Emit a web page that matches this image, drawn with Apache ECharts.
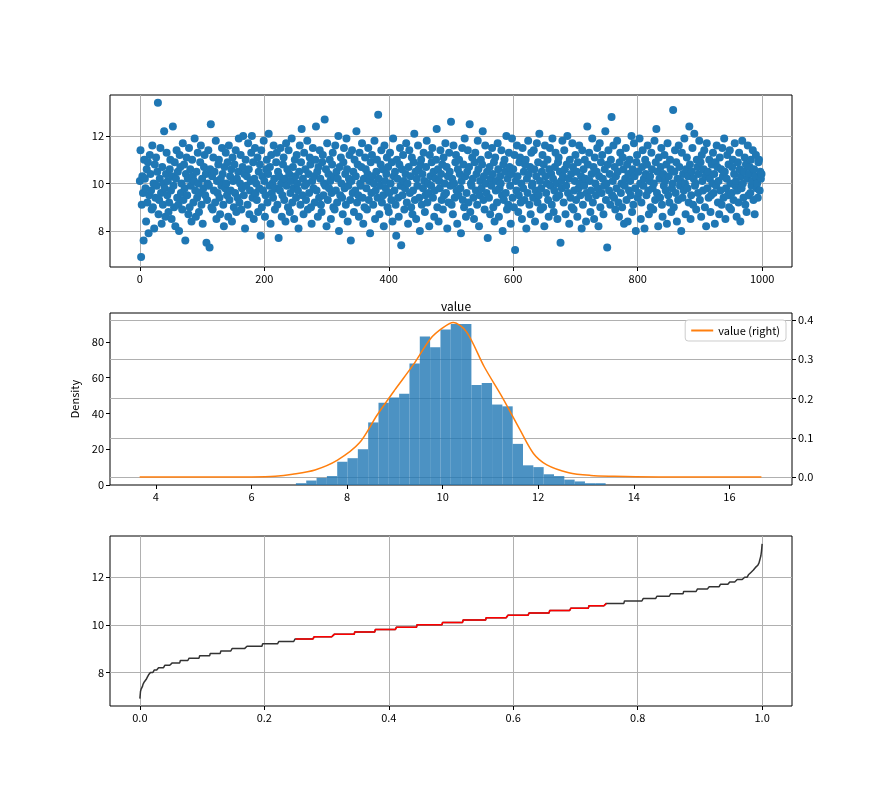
<!DOCTYPE html>
<html>
<head>
<meta charset="utf-8">
<script src="https://cdn.jsdelivr.net/npm/echarts@6/dist/echarts.min.js"></script>
<style>
	html, body { margin: 0; padding: 0; background: #fff; }
	#main { width: 878px; height: 787px; }
</style>
</head>
<body>
<div id="main"></div>
<script>
/*
 *  ========== 数据 ==========
 */
// 散点图: 1000 个 value 值
var values = [
10.1,11.4,6.9,9.1,10.3,9.6,7.6,11.0,10.2,9.8,8.4,10.6,9.2,10.9,7.9,9.5,11.2,10.4,9.7,8.9,
11.6,9.0,10.0,8.1,10.8,9.4,11.1,9.9,10.5,13.4,8.7,9.3,10.2,11.5,9.6,8.3,10.7,9.1,10.0,12.2,
9.8,8.6,10.4,11.3,9.5,10.1,8.8,9.2,10.6,11.0,9.7,8.5,10.3,12.4,9.9,9.0,10.9,8.2,10.2,11.4,
9.4,10.5,9.1,8.0,11.2,10.7,9.6,10.0,8.9,11.7,9.3,10.8,9.8,7.6,10.4,11.1,9.5,10.2,8.7,11.5,
9.0,10.6,9.9,8.4,11.0,10.3,9.2,10.1,11.9,9.7,8.6,10.5,9.4,11.3,10.0,8.8,9.6,10.9,11.6,9.1,
10.2,8.3,9.8,10.7,11.2,9.5,10.4,7.5,9.3,10.0,11.4,9.9,7.3,10.6,12.5,9.0,10.3,8.9,11.1,9.7,
10.5,9.2,11.8,8.5,10.1,9.6,10.8,11.0,9.4,8.7,10.2,9.9,11.5,10.4,9.1,8.2,10.7,9.8,11.3,10.0,
9.5,10.9,8.6,11.6,9.3,10.3,9.7,10.6,8.4,11.1,10.1,9.0,10.8,9.6,11.4,8.8,10.2,9.4,10.5,11.9,
9.2,10.0,11.2,8.9,9.8,10.7,12.0,9.5,10.4,8.1,11.0,9.9,10.3,9.1,11.7,10.6,8.7,9.7,10.1,11.3,
12.0,9.4,10.9,8.5,10.2,11.5,9.6,10.0,9.3,11.1,8.8,10.5,9.8,10.8,7.8,11.4,9.0,10.3,9.7,11.8,
10.1,8.6,9.5,10.6,11.0,9.2,10.4,12.1,9.9,10.7,8.3,11.2,9.6,10.0,9.4,11.6,10.2,8.9,9.8,10.9,
11.3,9.1,10.5,7.7,10.3,9.7,11.5,10.0,8.6,9.5,10.8,11.1,9.3,10.2,8.4,11.7,9.9,10.6,9.0,11.4,
10.4,8.8,9.6,10.1,11.9,9.2,10.7,9.8,8.5,11.0,10.3,9.4,11.2,10.0,9.7,8.1,10.5,11.6,9.1,10.9,
12.3,9.5,10.2,8.7,11.3,9.9,10.6,9.3,10.0,11.8,8.9,10.4,9.6,11.1,10.8,9.0,8.3,10.1,11.5,9.8,
10.3,9.2,11.0,12.4,9.7,10.5,8.6,10.7,9.4,11.4,10.2,9.1,8.8,10.9,11.2,9.5,10.0,12.7,9.9,10.6,
8.2,11.7,9.3,10.4,9.8,11.0,10.1,8.5,9.6,10.8,11.3,9.0,10.3,8.9,11.6,9.7,10.5,9.2,10.2,12.0,
8.0,10.7,9.5,11.1,10.0,9.4,8.7,10.9,11.5,9.8,10.4,9.1,11.9,10.6,8.4,9.9,10.2,11.2,9.3,7.6,
10.1,11.4,9.6,10.5,8.8,11.0,9.7,10.3,12.2,9.2,10.8,9.5,8.6,11.3,10.0,9.9,10.7,11.7,9.4,8.3,
10.2,9.0,11.1,10.6,9.8,8.9,10.4,11.5,9.3,10.1,7.9,10.9,9.6,11.2,10.3,9.1,10.0,11.8,8.5,9.7,
10.5,11.0,9.4,12.9,10.2,8.7,9.9,10.8,11.4,9.2,10.6,9.5,8.2,11.6,10.1,9.8,10.4,11.1,9.0,10.7,
8.8,9.6,11.3,10.0,9.3,10.9,8.4,11.9,10.3,9.7,10.5,9.1,7.8,11.0,10.2,9.4,8.6,10.8,11.5,9.9,
7.4,10.6,9.5,11.2,10.1,8.9,9.8,10.4,11.7,9.2,10.0,8.3,10.7,11.4,9.6,10.3,9.0,11.1,8.7,9.7,
10.9,12.1,9.3,10.5,8.5,10.2,9.9,11.6,10.6,9.4,8.0,10.8,11.0,9.1,10.4,9.8,11.3,10.1,8.8,9.5,
10.7,11.8,9.2,10.0,9.6,8.2,11.2,10.3,9.9,10.9,11.5,9.4,10.5,8.6,9.7,10.2,11.0,12.3,9.0,10.6,
8.4,10.1,9.8,11.4,10.4,9.3,10.8,8.9,11.1,9.5,10.0,11.7,9.6,10.7,8.1,10.3,9.2,11.3,10.5,9.9,
12.6,9.1,10.2,8.7,11.6,10.0,9.4,10.9,11.2,9.7,8.3,10.6,9.5,11.0,10.4,9.8,7.9,10.1,11.5,9.3,
10.8,9.0,11.9,10.3,8.6,9.6,10.5,11.4,9.2,10.7,12.5,8.8,10.0,9.9,11.1,10.2,9.4,8.5,10.9,11.3,
9.7,10.4,9.1,11.8,10.6,8.2,9.5,10.1,11.0,9.8,10.8,12.2,9.3,10.3,8.9,11.6,10.0,9.6,10.5,7.7,
11.2,9.4,10.7,8.7,10.2,9.9,11.5,10.4,9.0,10.9,8.4,11.1,9.7,10.1,9.2,11.7,10.6,8.6,9.8,10.3,
10.0,11.4,9.5,8.0,10.8,9.3,11.0,10.5,9.6,12.0,8.9,10.2,9.1,11.3,10.7,9.9,8.3,10.4,11.9,9.4,
10.6,9.0,11.2,7.2,10.1,9.7,11.6,10.3,8.8,9.5,10.9,11.1,9.2,10.0,8.5,11.5,9.8,10.5,9.3,10.8,
11.0,8.1,10.2,9.6,11.8,10.4,9.1,10.7,8.7,11.3,9.9,10.0,9.4,11.4,10.6,8.4,9.7,10.3,11.7,9.2,
10.9,9.5,12.1,10.1,8.9,9.8,10.5,11.2,9.0,10.8,8.2,11.6,10.3,9.6,10.0,11.0,9.3,8.6,10.6,11.5,
9.9,10.4,9.1,11.9,10.2,8.8,9.7,10.7,11.3,9.4,10.0,8.5,10.9,11.1,9.5,10.5,7.5,10.1,9.8,11.8,
10.3,9.2,11.4,10.6,8.7,9.9,10.8,12.0,9.6,10.2,8.3,11.0,9.4,10.4,9.0,11.7,10.7,8.9,9.7,10.1,
11.2,9.3,10.5,8.6,10.9,9.8,11.6,10.0,9.5,10.3,8.1,11.4,9.1,10.6,9.9,11.0,10.2,8.4,9.6,12.4,
10.8,9.4,11.3,10.1,8.8,9.7,10.4,11.9,9.2,10.7,8.5,11.1,10.0,9.5,10.5,11.5,9.8,8.2,10.3,11.7,
9.0,10.9,9.6,11.2,10.2,8.7,9.9,10.6,12.2,9.3,10.0,7.3,10.8,11.4,9.7,10.4,9.1,11.0,12.8,9.5,
10.1,11.6,9.4,10.7,8.9,10.3,9.8,11.8,10.5,9.2,8.6,10.9,11.3,9.6,10.0,9.0,11.1,10.6,8.3,9.9,
10.2,11.5,9.3,10.8,8.4,10.4,9.7,11.0,10.1,9.5,12.0,8.8,10.6,9.1,11.7,10.3,9.8,8.0,10.9,11.2,
9.4,10.5,9.6,11.9,10.0,8.5,9.2,10.7,11.4,9.9,10.2,8.1,11.0,10.4,9.5,10.8,11.6,9.7,8.7,10.1,
10.3,9.0,11.3,10.6,9.8,8.9,10.0,11.8,9.3,10.9,12.3,9.6,10.5,8.2,11.1,10.2,9.4,10.7,11.5,9.1,
8.6,10.4,9.9,11.2,10.1,9.7,10.8,8.3,11.7,9.5,10.3,9.2,11.0,10.6,8.8,9.8,10.0,13.1,9.0,10.5,
11.4,9.6,10.9,8.4,10.2,9.3,11.6,10.7,9.9,10.1,8.0,11.3,9.4,10.4,9.7,11.9,10.0,8.7,10.6,11.1,
9.8,10.3,9.2,12.4,10.8,8.5,9.5,10.5,11.5,9.1,10.2,12.1,9.9,10.0,8.9,11.0,10.7,9.6,10.4,11.8,
9.3,10.9,8.6,11.2,10.1,9.7,10.6,11.4,9.0,10.3,8.2,11.7,9.8,10.5,9.4,11.0,10.2,8.8,9.5,10.8,
10.0,11.3,9.6,10.4,8.3,10.9,9.9,11.6,10.7,9.2,10.1,8.7,11.1,9.7,10.6,9.1,11.5,10.3,9.4,11.9,
10.5,8.5,9.8,10.2,11.2,9.5,10.8,9.0,11.4,10.0,8.9,9.6,10.7,11.0,9.3,10.4,11.7,9.9,10.1,8.6,
9.7,10.9,9.2,11.3,10.6,8.4,10.3,9.8,11.8,10.0,9.4,10.5,11.1,9.1,10.8,8.8,10.2,11.6,9.5,10.4,
10.7,9.6,11.0,9.9,10.1,11.4,9.3,10.6,8.7,10.3,11.2,9.8,10.0,9.4,10.9,11.0,9.7,10.5,10.2,10.4
];

// 直方图: 30 个分箱的计数
var histStart = 6.93;
var histEnd = 13.41;
var histCounts = [1, 2.5, 4, 5, 13, 15, 20, 35, 46, 49, 51, 68, 83, 77, 87, 90, 90, 56, 57, 45, 44, 23, 11, 10, 6, 5, 3, 2, 1, 1];

// 核密度曲线 (右轴)
var kdeX = [3.66, 5.0, 6.0, 6.5, 6.86, 7.33, 7.8, 8.26, 8.63, 9.0, 9.38, 9.75, 10.0, 10.22, 10.5, 10.87, 11.24, 11.62, 11.9, 12.18, 12.64, 13.1, 13.58, 14.04, 15.0, 16.67];
var kdeY = [0, 0, 0.0003, 0.002, 0.007, 0.018, 0.043, 0.087, 0.158, 0.222, 0.285, 0.353, 0.38, 0.394, 0.37, 0.281, 0.205, 0.12, 0.06, 0.031, 0.011, 0.004, 0.0017, 0.0005, 0, 0];

// 刻度
var ticks1 = [0, 200, 400, 600, 800, 1000];
var ticks2 = [4, 6, 8, 10, 12, 14, 16];
var ticks3 = [0.0, 0.2, 0.4, 0.6, 0.8, 1.0];
var ticks3Label = ['0.0', '0.2', '0.4', '0.6', '0.8', '1.0'];

/*
 *  ========== 数据整理 ==========
 */
var scatterData = values.map(function(v, i) { return [i, v]; });
var sorted = values.slice().sort(function(a, b) { return a - b; });
var n = sorted.length;
var quantData = sorted.map(function(v, i) { return [i / (n - 1), v]; });
var redData = quantData.filter(function(p) { return p[0] >= 0.25 && p[0] <= 0.75; });
var binW = (histEnd - histStart) / histCounts.length;
var histData = histCounts.map(function(c, i) { return [histStart + i * binW, histStart + (i + 1) * binW, c]; });
var kdeData = kdeX.map(function(x, i) { return [x, kdeY[i]]; });

var font = 'SimHei, "Noto Sans CJK SC", sans-serif';
var lab = { color: '#000', fontSize: 11, fontFamily: font };
var axLine = { show: false, onZero: false };
var tick = { show: true, length: 4, lineStyle: { color: '#000' } };
var grid = { show: true, lineStyle: { color: '#b0b0b0', width: 1 } };

function xAx(idx, min, max, t, labels, split) {
	return {
		type: 'value', gridIndex: idx, min: min, max: max,
		axisLine: axLine, axisTick: Object.assign({ customValues: t }, tick),
		axisLabel: Object.assign({ customValues: t, margin: 6, formatter: function(v) {
			var k = t.indexOf(v); return labels ? labels[k] : String(v);
		} }, lab),
		splitLine: split ? grid : { show: false }
	};
}
function yAx(idx, min, max, t, split, extra) {
	return Object.assign({
		type: 'value', gridIndex: idx, min: min, max: max,
		axisLine: axLine, axisTick: Object.assign({ customValues: t }, tick),
		axisLabel: Object.assign({ customValues: t, margin: 6 }, lab),
		splitLine: split ? grid : { show: false }
	}, extra || {});
}

var box = { show: true, borderColor: '#000', borderWidth: 1, backgroundColor: 'transparent' };

var myChart = echarts.init(document.getElementById('main'));
var option = {
	animation: false,
	title: { text: 'value', left: 451, top: 295, textAlign: 'center', textStyle: { fontSize: 12, fontWeight: 'normal', color: '#000', fontFamily: font } },
	legend: {
		data: ['value (right)'], right: 92, top: 320, orient: 'vertical',
		backgroundColor: '#fff', borderColor: '#ccc', borderWidth: 1, borderRadius: 3, padding: [5, 6],
		itemWidth: 22, itemHeight: 2, icon: 'rect',
		textStyle: { fontSize: 11, color: '#000', fontFamily: font }
	},
	grid: [
		Object.assign({ left: 110, top: 95, width: 682, height: 172 }, box),
		Object.assign({ left: 110, top: 313, width: 682, height: 172 }, box),
		Object.assign({ left: 110, top: 536, width: 682, height: 170 }, box)
	],
	xAxis: [
		xAx(0, -48, 1048, ticks1, null, true),
		xAx(1, 3.04, 17.31, ticks2, null, false),
		xAx(2, -0.048, 1.048, ticks3, ticks3Label, true)
	],
	yAxis: [
		yAx(0, 6.48, 13.73, [8, 10, 12], true),
		yAx(1, 0, 96.2, [0, 20, 40, 60, 80], false, { name: 'Density', nameLocation: 'middle', nameGap: 30, nameTextStyle: lab }),
		yAx(1, -0.0204, 0.418, [0.0, 0.1, 0.2, 0.3, 0.4], true, { position: 'right', axisLabel: Object.assign({ customValues: [0, 0.1, 0.2, 0.3, 0.4], margin: 6, formatter: function(v) { return v.toFixed(1); } }, lab) }),
		yAx(2, 6.59, 13.73, [8, 10, 12], true)
	],
	series: [{
		type: 'scatter', xAxisIndex: 0, yAxisIndex: 0, data: scatterData,
		symbolSize: 8, itemStyle: { color: '#1f77b4', opacity: 1 }
	}, {
		type: 'custom', xAxisIndex: 1, yAxisIndex: 1, data: histData,
		renderItem: function(params, api) {
			var p0 = api.coord([api.value(0), api.value(2)]);
			var p1 = api.coord([api.value(1), 0]);
			return { type: 'rect', shape: { x: p0[0], y: p0[1], width: p1[0] - p0[0], height: p1[1] - p0[1] }, style: { fill: 'rgba(31,119,180,0.8)' } };
		}
	}, {
		name: 'value (right)', type: 'line', xAxisIndex: 1, yAxisIndex: 2, data: kdeData,
		smooth: 0.3, showSymbol: false, lineStyle: { color: '#ff7f0e', width: 1.5 }, itemStyle: { color: '#ff7f0e' }
	}, {
		type: 'line', xAxisIndex: 2, yAxisIndex: 3, data: quantData,
		showSymbol: false, lineStyle: { color: '#333', width: 1.5 }
	}, {
		type: 'line', xAxisIndex: 2, yAxisIndex: 3, data: redData,
		showSymbol: false, lineStyle: { color: '#ff0000', width: 1.5 }
	}]
};
myChart.setOption(option);
</script>
</body>
</html>
